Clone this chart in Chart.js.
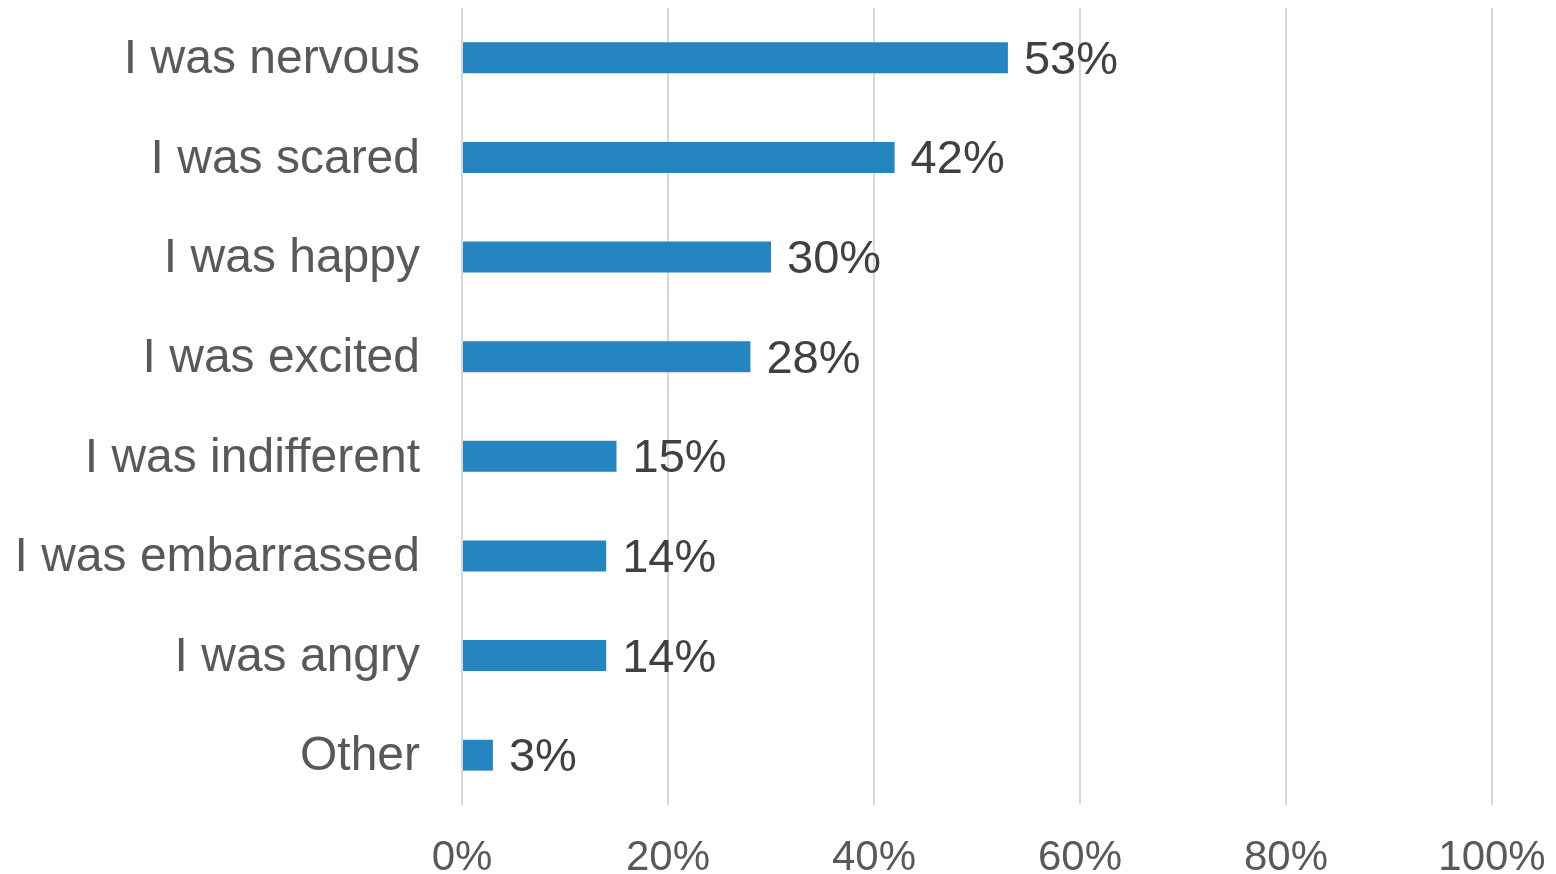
<!DOCTYPE html>
<html lang="en">
<head>
  <meta charset="UTF-8">
  <title>Feelings chart</title>
  <script src="https://cdn.jsdelivr.net/npm/chart.js"></script>
  <style>
    html, body { margin: 0; padding: 0; background: #fff; }
    #wrap { width: 1556px; height: 874px; position: relative; }
  </style>
</head>
<body>
  <div id="wrap"><canvas id="feelingsChart"></canvas></div>

  <script>
    // Data
    const categories = ['I was nervous', 'I was scared', 'I was happy', 'I was excited',
                        'I was indifferent', 'I was embarrassed', 'I was angry', 'Other'];
    const percentages = [53, 42, 30, 28, 15, 14, 14, 3];
    const xTicks = [0, 20, 40, 60, 80, 100];

    const FONT = "'Liberation Sans', Arial, sans-serif";

    // Draws the value labels at the end of each bar
    const valueLabels = {
      id: 'valueLabels',
      afterDatasetsDraw(chart) {
        const ctx = chart.ctx;
        const meta = chart.getDatasetMeta(0);
        ctx.save();
        ctx.font = '47px ' + FONT;
        ctx.fillStyle = '#404040';
        ctx.textAlign = 'left';
        ctx.textBaseline = 'middle';
        meta.data.forEach((bar, i) => {
          ctx.fillText(percentages[i] + '%', bar.x + 16, bar.y + 3);
        });
        ctx.restore();
      }
    };

    // keep the plot area where the reference has it
    function noAutoPadding(axis) {
      axis.paddingTop = 0;
      axis.paddingBottom = 0;
      axis.paddingLeft = 0;
      axis.paddingRight = 0;
    }

    new Chart(document.getElementById('feelingsChart').getContext('2d'), {
      type: 'bar',
      data: {
        labels: categories,
        datasets: [{
          data: percentages,
          backgroundColor: '#2585C0',
          borderWidth: 0,
          categoryPercentage: 1,
          barPercentage: 0.31
        }]
      },
      options: {
        indexAxis: 'y',
        responsive: true,
        maintainAspectRatio: false,
        animation: false,
        layout: { padding: { top: 8, right: 64, left: 0, bottom: 0 } },
        plugins: {
          legend: { display: false },
          tooltip: { enabled: false }
        },
        scales: {
          x: {
            min: 0,
            max: 100,
            afterBuildTicks: axis => { axis.ticks = xTicks.map(v => ({ value: v })); },
            afterFit: axis => { axis.height = 69; noAutoPadding(axis); },
            grid: { color: '#D9D9D9', lineWidth: 2, drawTicks: false },
            border: { display: false },
            ticks: {
              padding: 28,
              color: '#595959',
              font: { family: FONT, size: 42 },
              callback: v => v + '%',
              maxRotation: 0
            }
          },
          y: {
            afterFit: axis => { axis.width = 462; noAutoPadding(axis); },
            grid: { display: false, drawTicks: false },
            border: { display: false },
            ticks: {
              padding: 42,
              labelOffset: 2,
              color: '#595959',
              font: { family: FONT, size: 48 }
            }
          }
        }
      },
      plugins: [valueLabels]
    });
  </script>
</body>
</html>
